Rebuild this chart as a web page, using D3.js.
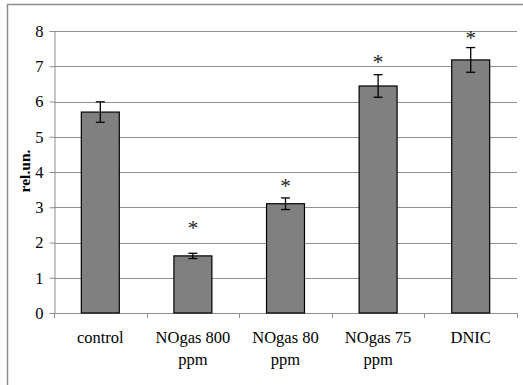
<!DOCTYPE html>
<html>
<head>
<meta charset="utf-8">
<script src="https://cdn.jsdelivr.net/npm/d3@7"></script>
<style>
  html, body { margin: 0; padding: 0; background: #fff; }
  svg { display: block; }
</style>
</head>
<body>
<svg id="chart" width="523" height="385"></svg>
<script>
// Treatment groups (two-line labels), means, and error half-widths
const categories = [["control"], ["NOgas 800", "ppm"], ["NOgas 80", "ppm"], ["NOgas 75", "ppm"], ["DNIC"]];
const values = [5.7, 1.62, 3.1, 6.44, 7.18];
const errors = [0.29, 0.075, 0.165, 0.32, 0.35];
// significance markers ("*") and the level (in rel.un.) each one sits at; null = none
const markerLevels = [null, 2.5, 3.7, 7.23, 7.91];
const yTicks = [0, 1, 2, 3, 4, 5, 6, 7, 8];
const yLabel = "rel.un.";

const SERIF = "Liberation Serif";
const svg = d3.select("#chart").style("font-family", SERIF);
const plot = { left: 54, right: 517, top: 31, bottom: 313 };

// frame around the chart area (top and left edges visible)
svg.append("path")
  .attr("d", `M7.5,385 V4.5 H523`)
  .attr("fill", "none")
  .attr("stroke", "#8c8c8c")
  .attr("stroke-width", 1.5);

const xOuter = d3.scaleBand()
  .domain(d3.range(categories.length))
  .range([plot.left, plot.right]);

const x = d3.scaleBand()
  .domain(d3.range(categories.length))
  .range([plot.left, plot.right])
  .paddingInner(0.59)
  .paddingOuter(0.295);

const y = d3.scaleLinear().domain([0, 8]).range([plot.bottom, plot.top]);

// horizontal gridlines
svg.append("g")
  .selectAll("line")
  .data(yTicks.filter(t => t > 0))
  .join("line")
  .attr("x1", plot.left).attr("x2", plot.right)
  .attr("y1", d => Math.round(y(d)) + 0.5).attr("y2", d => Math.round(y(d)) + 0.5)
  .attr("stroke", "#8f8f8f").attr("stroke-width", 1);

// y axis
const yAxis = svg.append("g")
  .attr("transform", `translate(${plot.left + 0.5},0)`)
  .call(d3.axisLeft(y).tickValues(yTicks).tickSize(5).tickPadding(6).tickFormat(d3.format("d")));
yAxis.attr("font-family", null);
yAxis.select(".domain").attr("stroke", "#8f8f8f");
yAxis.selectAll(".tick line").attr("stroke", "#8f8f8f");
yAxis.selectAll("text")
  .style("font-family", SERIF)
  .attr("font-size", 16.5)
  .attr("fill", "#000");

// x axis baseline with category boundary ticks
const xAxisG = svg.append("g");
xAxisG.append("line")
  .attr("x1", plot.left).attr("x2", plot.right)
  .attr("y1", plot.bottom + 0.5).attr("y2", plot.bottom + 0.5)
  .attr("stroke", "#8f8f8f");
const bounds = d3.range(categories.length + 1).map(i => i < categories.length ? xOuter(i) : plot.right);
xAxisG.selectAll("line.tick")
  .data(bounds)
  .join("line")
  .attr("class", "tick")
  .attr("x1", d => Math.round(d) + 0.5).attr("x2", d => Math.round(d) + 0.5)
  .attr("y1", plot.bottom).attr("y2", plot.bottom + 5)
  .attr("stroke", "#8f8f8f");

// category labels
const lbl = svg.append("g").selectAll("text")
  .data(categories)
  .join("text")
  .style("font-family", SERIF)
  .attr("text-anchor", "middle")
  .attr("font-size", 16.5)
  .attr("fill", "#000")
  .attr("x", (d, i) => xOuter(i) + xOuter.bandwidth() / 2)
  .attr("y", 343);
lbl.selectAll("tspan")
  .data(d => d)
  .join("tspan")
  .attr("x", function () { return this.parentNode.getAttribute("x"); })
  .attr("dy", (d, i) => i === 0 ? 0 : 22)
  .text(d => d);

// bars
svg.append("g").selectAll("rect")
  .data(values)
  .join("rect")
  .attr("x", (d, i) => x(i))
  .attr("width", x.bandwidth())
  .attr("y", d => y(d))
  .attr("height", d => y(0) - y(d))
  .attr("fill", "#808080")
  .attr("stroke", "#000")
  .attr("stroke-width", 1.2);

// error bars
const eb = svg.append("g").attr("stroke", "#000").attr("stroke-width", 1.3);
values.forEach((v, i) => {
  const cx = x(i) + x.bandwidth() / 2;
  const top = y(v + errors[i]), bot = y(v - errors[i]);
  eb.append("line").attr("x1", cx).attr("x2", cx).attr("y1", top).attr("y2", bot);
  eb.append("line").attr("x1", cx - 4.5).attr("x2", cx + 4.5).attr("y1", top).attr("y2", top);
  eb.append("line").attr("x1", cx - 4.5).attr("x2", cx + 4.5).attr("y1", bot).attr("y2", bot);
});

// significance markers, centred vertically on their level
svg.append("g").selectAll("text")
  .data(markerLevels.map((m, i) => ({ m, i })).filter(d => d.m !== null))
  .join("text")
  .style("font-family", SERIF)
  .attr("text-anchor", "middle")
  .attr("font-size", 21)
  .attr("fill", "#222")
  .attr("x", d => x(d.i) + x.bandwidth() / 2)
  .attr("y", d => y(d.m) + 10.5)
  .text("*");

// y-axis title
svg.append("text")
  .style("font-family", SERIF)
  .attr("transform", "translate(30,171) rotate(-90)")
  .attr("text-anchor", "middle")
  .attr("font-size", 15.5)
  .attr("font-weight", "bold")
  .attr("fill", "#000")
  .text(yLabel);
</script>
</body>
</html>
